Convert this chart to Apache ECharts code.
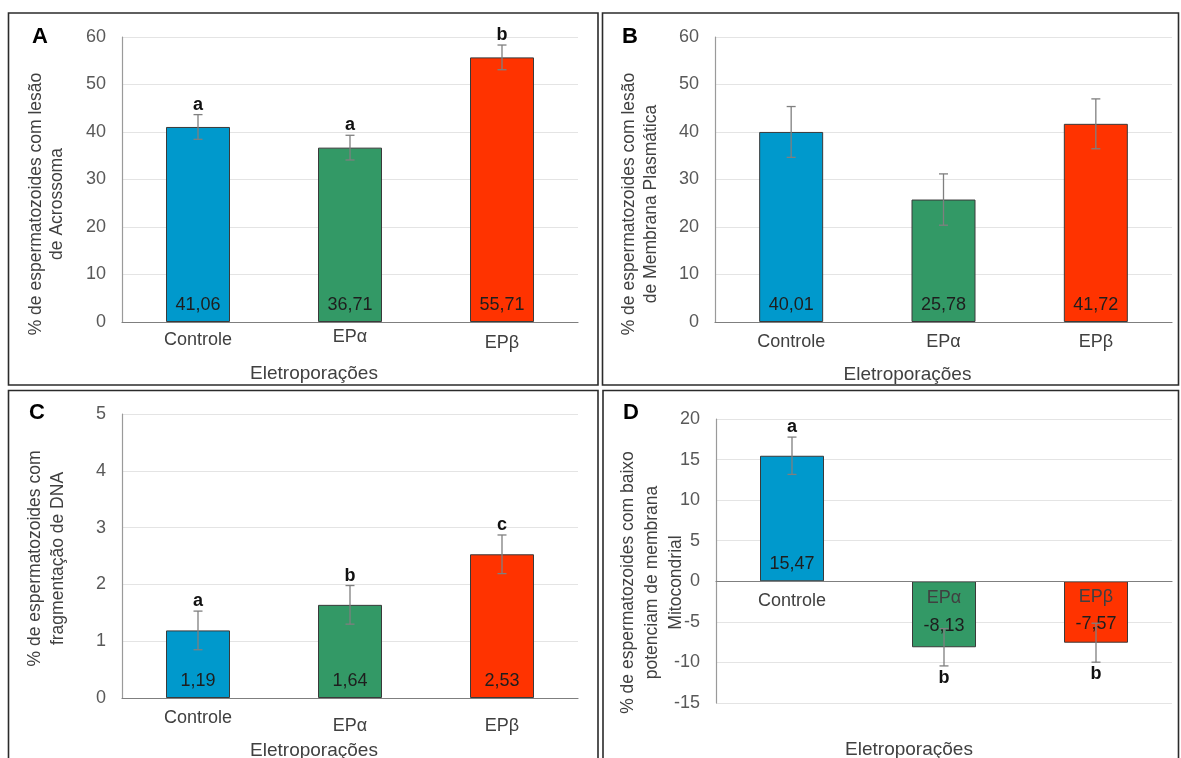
<!DOCTYPE html>
<html>
<head>
<meta charset="utf-8">
<script src="https://cdn.jsdelivr.net/npm/echarts@6/dist/echarts.min.js"></script>
<style>
  html, body { margin: 0; padding: 0; background: #ffffff; }
  #chart { width: 1181px; height: 758px; }
</style>
</head>
<body>
<div id="chart"></div>
<script>
// Treatment groups shared by all four panels
const categories = ['Controle', 'EPα', 'EPβ'];

// A – acrosome damage
const acrossomaMeans = [41.06, 36.71, 55.71];
const acrossomaErr = [2.6, 2.6, 2.6];
const acrossomaLetters = ['a', 'a', 'b'];

// B – plasma membrane damage
const membranaMeans = [40.01, 25.78, 41.72];
const membranaErr = [5.35, 5.4, 5.25];
const membranaLetters = ['', '', ''];

// C – DNA fragmentation
const dnaMeans = [1.19, 1.64, 2.53];
const dnaErr = [0.34, 0.34, 0.34];
const dnaLetters = ['a', 'b', 'c'];

// D – low mitochondrial membrane potential
const mitoMeans = [15.47, -8.13, -7.57];
const mitoErr = [2.3, 2.3, 2.4];
const mitoLetters = ['a', 'b', 'b'];

// Y-axis ranges
const yRangeAB = { min: 0, max: 60, interval: 10 };
const yRangeC = { min: 0, max: 5, interval: 1 };
const yRangeD = { min: -15, max: 20, interval: 5 };

const FONT = '"Liberation Sans", Arial, Helvetica, sans-serif';
const barColors = ['#0099cc', '#339966', '#ff3300'];
const AXIS_TEXT = '#595959';
const TITLE_TEXT = '#404040';

const chart = echarts.init(document.getElementById('chart'), null, { renderer: 'canvas' });

function fmt(v) { return v.toFixed(2).replace('.', ','); }

// Bar series with the value printed inside each bar
function barSeries(idx, means) {
  return {
    type: 'bar',
    xAxisIndex: idx,
    yAxisIndex: idx,
    barWidth: 64,
    z: 2,
    data: means.map((v, i) => {
      const neg = v < 0;
      return {
        value: v,
        itemStyle: { color: barColors[i], borderColor: '#3a3a3a', borderWidth: 1 },
        label: neg
          ? { show: true, position: 'inside', offset: [0, 12] }
          : { show: true, position: 'insideBottom', distance: 8 }
      };
    }),
    label: {
      show: true,
      fontFamily: FONT,
      fontSize: 18,
      color: '#1e1e1e',
      formatter: p => fmt(p.value)
    }
  };
}

// Error bars (mean ± error) plus the significance letter beyond the outer end
function errorSeries(idx, means, errs, letters) {
  return {
    type: 'custom',
    xAxisIndex: idx,
    yAxisIndex: idx,
    z: 4,
    silent: true,
    data: means.map((m, i) => [i, m, errs[i]]),
    renderItem: function (params, api) {
      const i = api.value(0);
      const m = api.value(1);
      const e = api.value(2);
      const hi = api.coord([i, m + e]);
      const lo = api.coord([i, m - e]);
      const x = hi[0];
      const cap = 4.5;
      const lineStyle = { stroke: '#7f7f7f', lineWidth: 1.3 };
      const children = [
        { type: 'line', shape: { x1: x, y1: hi[1], x2: x, y2: lo[1] }, style: lineStyle },
        { type: 'line', shape: { x1: x - cap, y1: hi[1], x2: x + cap, y2: hi[1] }, style: lineStyle },
        { type: 'line', shape: { x1: x - cap, y1: lo[1], x2: x + cap, y2: lo[1] }, style: lineStyle }
      ];
      const letter = letters[params.dataIndex];
      if (letter) {
        children.push({
          type: 'text',
          style: {
            text: letter,
            x: x,
            y: m >= 0 ? hi[1] - 10 : lo[1] + 12,
            align: 'center',
            verticalAlign: 'middle',
            fontFamily: FONT,
            fontWeight: 'bold',
            fontSize: 18,
            fill: '#111111'
          }
        });
      }
      return { type: 'group', children: children };
    }
  };
}

function xAxisCfg(idx, pads, nameGap, namePad, extra) {
  return Object.assign({
    type: 'category',
    gridIndex: idx,
    data: categories.map((c, i) => ({ value: c, textStyle: { padding: [pads[i], 0, 0, 0] } })),
    axisTick: { show: false },
    axisLine: { lineStyle: { color: '#7f7f7f', width: 1.2 } },
    axisLabel: { fontFamily: FONT, fontSize: 18, color: TITLE_TEXT, margin: 6, interval: 0 },
    splitLine: { show: false },
    name: 'Eletroporações',
    nameLocation: 'middle',
    nameGap: nameGap,
    nameMoveOverlap: false,
    nameTextStyle: { fontFamily: FONT, fontSize: 19, color: TITLE_TEXT, padding: [0, namePad, 0, 0] }
  }, extra || {});
}

function yAxisCfg(idx, range, name, nameGap, namePad, lineHeight) {
  return Object.assign({
    type: 'value',
    gridIndex: idx,
    axisLine: { show: true, lineStyle: { color: '#9a9a9a', width: 1.2 } },
    axisTick: { show: false },
    axisLabel: { fontFamily: FONT, fontSize: 18, color: AXIS_TEXT, margin: 16 },
    splitLine: { show: true, lineStyle: { color: '#e4e4e4', width: 1.2 } },
    name: name,
    nameLocation: 'middle',
    nameRotate: 90,
    nameGap: nameGap,
    nameMoveOverlap: false,
    nameTextStyle: {
      fontFamily: FONT, fontSize: 17.5, color: TITLE_TEXT,
      lineHeight: lineHeight, align: 'center', padding: [0, namePad, 0, 0]
    }
  }, range);
}

// Panel frames and panel letters
const frames = [
  { x: 8.5, y: 13, w: 589.5, h: 372 },
  { x: 602.5, y: 13, w: 576, h: 372 },
  { x: 8.5, y: 390.5, w: 589.5, h: 420 },
  { x: 603, y: 390.5, w: 575.5, h: 420 }
];
const panelLetters = [
  { t: 'A', x: 40, y: 37 },
  { t: 'B', x: 630, y: 37 },
  { t: 'C', x: 37, y: 413 },
  { t: 'D', x: 631, y: 413 }
];

const graphic = [];
frames.forEach(f => graphic.push({
  type: 'rect', silent: true, z: 0,
  shape: { x: f.x, y: f.y, width: f.w, height: f.h },
  style: { fill: null, stroke: '#2b2b2b', lineWidth: 1.6 }
}));
panelLetters.forEach(p => graphic.push({
  type: 'text', silent: true, z: 10,
  style: {
    text: p.t, x: p.x, y: p.y, align: 'center', verticalAlign: 'middle',
    fontFamily: FONT, fontWeight: 'bold', fontSize: 22, fill: '#000000'
  }
}));

const gridBase = { outerBoundsMode: 'none', containLabel: false };
const gridD = Object.assign({ left: 716, top: 419, width: 456, height: 284 }, gridBase);

// Panel D: category axis sits on the zero line, so it is lifted from the
// bottom edge by the share of the range lying below zero.
const zeroLiftD = -((0 - yRangeD.min) / (yRangeD.max - yRangeD.min)) * gridD.height;

const option = {
  backgroundColor: '#ffffff',
  animation: false,
  textStyle: { fontFamily: FONT },
  graphic: graphic,
  grid: [
    Object.assign({ left: 122, top: 37, width: 456, height: 285 }, gridBase),
    Object.assign({ left: 715, top: 37, width: 457, height: 285 }, gridBase),
    Object.assign({ left: 122, top: 414, width: 456, height: 284 }, gridBase),
    gridD
  ],
  xAxis: [
    xAxisCfg(0, [3, 0, 6], 42, 72),
    xAxisCfg(1, [5, 5, 5], 43, 72),
    xAxisCfg(2, [4.7, 12.7, 12.7], 43, 72),
    xAxisCfg(3, [4.5, 1.5, 0.5], 159, 70, {
      z: 5,
      position: 'bottom',
      offset: zeroLiftD,
      axisLine: { onZero: false, lineStyle: { color: '#7f7f7f', width: 1.2 } }
    })
  ],
  yAxis: [
    yAxisCfg(0, yRangeAB, '% de espermatozoides com lesão\nde Acrossoma', 54, 49, 21),
    yAxisCfg(1, yRangeAB, '% de espermatozoides com lesão\nde Membrana Plasmática', 53, 49, 22),
    yAxisCfg(2, yRangeC, '% de espermatozoides com\nfragmentação de DNA', 52, 5, 23),
    yAxisCfg(3, yRangeD, '% de espermatozoides com baixo\npotenciam de membrana\nMitocondrial', 28, 43, 24)
  ],
  series: [
    barSeries(0, acrossomaMeans),
    errorSeries(0, acrossomaMeans, acrossomaErr, acrossomaLetters),
    barSeries(1, membranaMeans),
    errorSeries(1, membranaMeans, membranaErr, membranaLetters),
    barSeries(2, dnaMeans),
    errorSeries(2, dnaMeans, dnaErr, dnaLetters),
    barSeries(3, mitoMeans),
    errorSeries(3, mitoMeans, mitoErr, mitoLetters)
  ]
};

chart.setOption(option);
</script>
</body>
</html>
